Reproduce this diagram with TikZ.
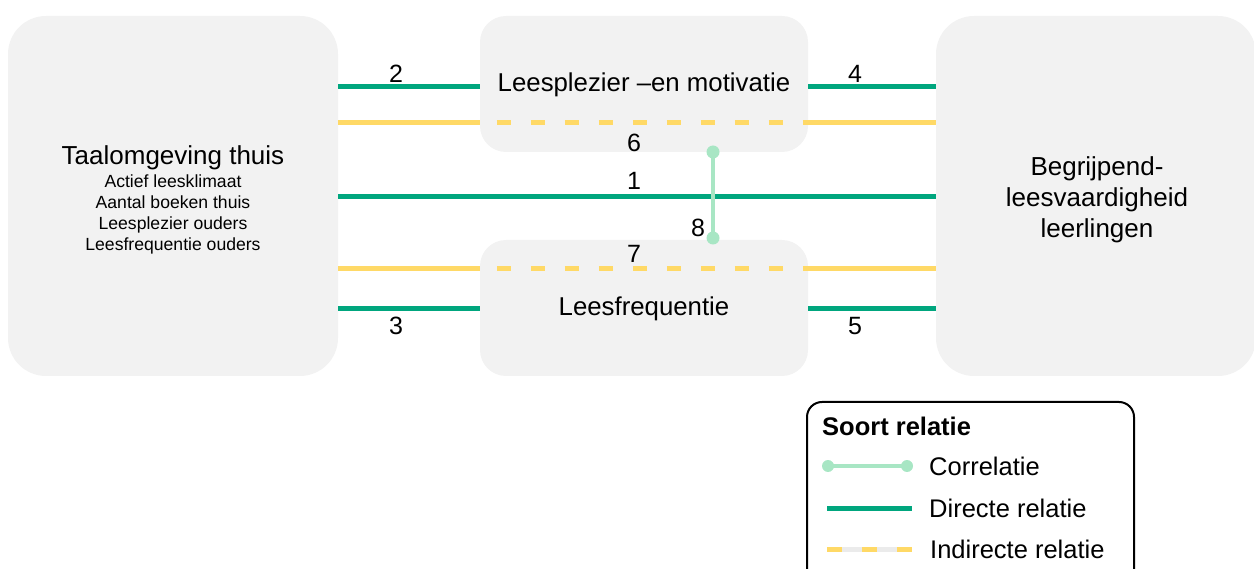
\documentclass[tikz,border=0pt]{standalone}
\usepackage{fontspec}
\setmainfont{Liberation Sans}
\definecolor{boxgray}{HTML}{F2F2F2}
\definecolor{dgreen}{HTML}{00A67E}
\definecolor{lgreen}{HTML}{A8E6C4}
\definecolor{yel}{HTML}{FFD966}
\definecolor{gapgray}{HTML}{EBEBEB}
\tikzset{
  blk/.style={draw=none, fill=boxgray, rounded corners=#1, inner sep=0pt, align=center},
  direct/.style={draw=dgreen, line width=5pt},
  indirect/.style={draw=yel, line width=5pt},
  indash/.style={draw=yel, line width=5pt, dash pattern=on 14pt off 20pt, dash phase=17pt},
  corr/.style={draw=lgreen, line width=4pt},
  dotend/.style={circle, fill=lgreen, inner sep=0pt, minimum size=13pt},
  num/.style={font=\fontsize{25}{30}\selectfont, inner sep=0pt},
  lab/.style={font=\fontsize{25.5}{30}\selectfont, inner sep=0pt, anchor=west},
}
\begin{document}
\begin{tikzpicture}[x=1pt,y=-1pt]
\useasboundingbox (0,0) rectangle (1254,569);
% boxes
\node[blk=38pt, minimum width=330pt, minimum height=360pt] (taal) at (173,196) {};
\node[blk=26pt, minimum width=328pt, minimum height=136pt] (plez) at (644,84) {};
\node[blk=26pt, minimum width=328pt, minimum height=136pt] (freq) at (644,308) {};
\node[blk=38pt, minimum width=320pt, minimum height=360pt] (begr) at (1096,196) {};
% box texts
\node[inner sep=0pt, align=center, font=\fontsize{17.6}{21}\selectfont] (taaltxt) at (173,200) {\fontsize{26}{30}\selectfont Taalomgeving thuis\\[2pt]
 \fontsize{17.6}{21}\selectfont Actief leesklimaat\\Aantal boeken thuis\\Leesplezier ouders\\Leesfrequentie ouders};
\node[inner sep=0pt, font=\fontsize{25.8}{30}\selectfont] (pleztxt) at (644,85) {Leesplezier –en motivatie};
\node[inner sep=0pt, font=\fontsize{25.8}{30}\selectfont] (freqtxt) at (644,309) {Leesfrequentie};
\node[inner sep=0pt, align=center, font=\fontsize{26}{31}\selectfont] (begrtxt) at (1097,200) {Begrijpend-\\leesvaardigheid\\leerlingen};
% helper levels
\coordinate (y87) at (0,87);
\coordinate (y123) at (0,123);
\coordinate (y196) at (0,196.5);
\coordinate (y269) at (0,269);
\coordinate (y309) at (0,309);
\coordinate (a2) at (taal.east |- y87);
\coordinate (b2) at (plez.west |- y87);
\coordinate (a4) at (plez.east |- y87);
\coordinate (b4) at (begr.west |- y87);
\coordinate (a6) at (taal.east |- y123);
\coordinate (p6) at (plez.west |- y123);
\coordinate (q6) at (plez.east |- y123);
\coordinate (b6) at (begr.west |- y123);
\coordinate (a1) at (taal.east |- y196);
\coordinate (b1) at (begr.west |- y196);
\coordinate (a7) at (taal.east |- y269);
\coordinate (p7) at (freq.west |- y269);
\coordinate (q7) at (freq.east |- y269);
\coordinate (b7) at (begr.west |- y269);
\coordinate (a3) at (taal.east |- y309);
\coordinate (b3) at (freq.west |- y309);
\coordinate (a5) at (freq.east |- y309);
\coordinate (b5) at (begr.west |- y309);
% connectors
\draw[direct] (a2) -- (b2);
\draw[direct] (a4) -- (b4);
\draw[direct] (a1) -- (b1);
\draw[direct] (a3) -- (b3);
\draw[direct] (a5) -- (b5);
\draw[indirect] (a6) -- (p6);
\draw[indash] (p6) -- (q6);
\draw[indirect] (q6) -- (b6);
\draw[indirect] (a7) -- (p7);
\draw[indash] (p7) -- (q7);
\draw[indirect] (q7) -- (b7);
% correlation
\node[dotend] (c1) at (713,152) {};
\node[dotend] (c2) at (713,238) {};
\draw[corr] (c1.center) -- (c2.center);
% numbers
\node[num] (n2) at (396,74) {2};
\node[num] (n4) at (855,74) {4};
\node[num] (n6) at (634,143) {6};
\node[num] (n1) at (634,181) {1};
\node[num] (n8) at (698,228) {8};
\node[num] (n7) at (634,254) {7};
\node[num] (n3) at (396,326) {3};
\node[num] (n5) at (855,326) {5};
% legend
\draw[line width=2pt, rounded corners=15pt] (807,402) -- (1134,402) -- (1134,585) -- (807,585) -- cycle;
\node[inner sep=0pt, anchor=west, font=\bfseries\fontsize{25.5}{30}\selectfont] (ltitle) at (822,426) {Soort relatie};
\node[dotend, minimum size=12pt] (lc1) at (828,466) {};
\node[dotend, minimum size=12pt] (lc2) at (907,466) {};
\draw[corr] (lc1.center) -- (lc2.center);
\node[lab] (lct) at (929,466) {Correlatie};
\coordinate (ld1) at (827,508);
\coordinate (ld2) at (912,508);
\draw[direct] (ld1) -- (ld2);
\node[lab] (ldt) at (929,508) {Directe relatie};
\coordinate (li1) at (827,549);
\coordinate (li2) at (912,549);
\draw[draw=gapgray, line width=5pt] (li1) -- (li2);
\draw[draw=yel, line width=5pt, dash pattern=on 15pt off 20pt] (li1) -- (li2);
\node[lab] (lit) at (930,549) {Indirecte relatie};
\end{tikzpicture}
\end{document}
